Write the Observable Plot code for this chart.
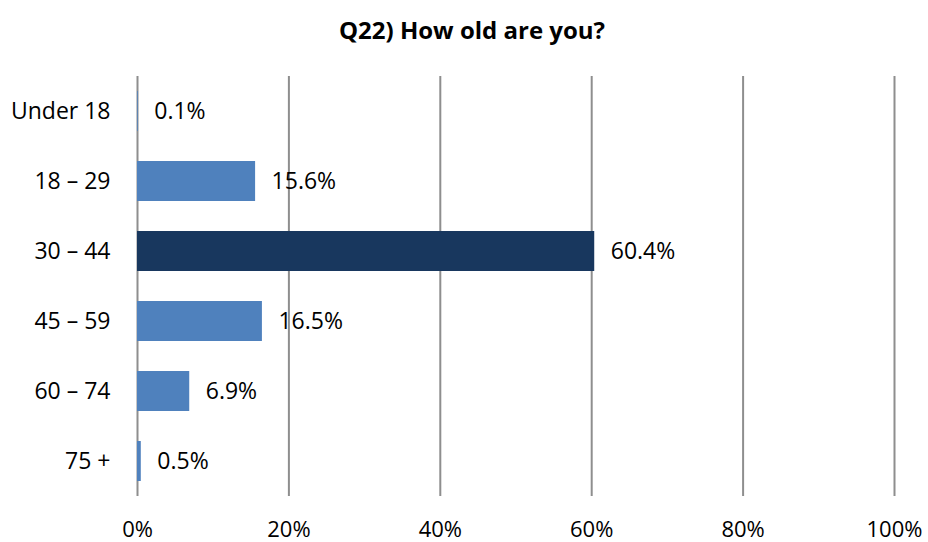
<!DOCTYPE html>
<html>
<head>
<meta charset="utf-8">
<script src="https://cdn.jsdelivr.net/npm/d3@7"></script>
<script src="https://cdn.jsdelivr.net/npm/@observablehq/plot@0.6"></script>
<style>
  html, body { margin: 0; padding: 0; background: #ffffff; }
  #title {
    width: 928px; height: 60px; line-height: 60px; text-align: center;
    font-family: "Open Sans", "Liberation Sans", Arial, sans-serif; font-weight: bold; font-size: 24px;
    color: #000; padding-left: 16px; box-sizing: border-box;
  }
  svg { display: block; }
</style>
</head>
<body>
<div id="title">Q22) How old are you?</div>
<div id="chart"></div>
<script>
const categories = ["Under 18", "18 – 29", "30 – 44", "45 – 59", "60 – 74", "75 +"];
const values = [0.1, 15.6, 60.4, 16.5, 6.9, 0.5];
const xTicks = [0, 20, 40, 60, 80, 100];
const highlighted = "30 – 44";

const data = categories.map((c, i) => ({category: c, value: values[i]}));

const chart = Plot.plot({
  width: 928,
  height: 482,
  marginTop: 16,
  marginBottom: 46,
  marginLeft: 137,
  marginRight: 34,
  style: {fontFamily: "'Open Sans', 'Liberation Sans', Arial, sans-serif", fontSize: "22px", color: "#000", background: "#fff"},
  x: {domain: [0, 100]},
  y: {domain: categories, paddingInner: 0.4286, paddingOuter: 0.2143},
  marks: [
    Plot.gridX(xTicks, {stroke: "#8e8e8e", strokeOpacity: 1, strokeWidth: 2}),
    Plot.barX(data, {
      x: "value", y: "category",
      fill: d => d.category === highlighted ? "#18375E" : "#4F81BD"
    }),
    Plot.text(data, {
      x: "value", y: "category",
      text: d => d.value.toFixed(1) + "%",
      textAnchor: "start", dx: 16, fill: "#000", fontSize: 23
    }),
    Plot.axisX({ticks: xTicks, tickSize: 0, tickPadding: 25, tickFormat: d => d + "%", fontSize: 22, label: null}),
    Plot.axisY({tickSize: 0, tickPadding: 27, fontSize: 23, label: null})
  ]
});
document.getElementById("chart").appendChild(chart);
</script>
</body>
</html>
